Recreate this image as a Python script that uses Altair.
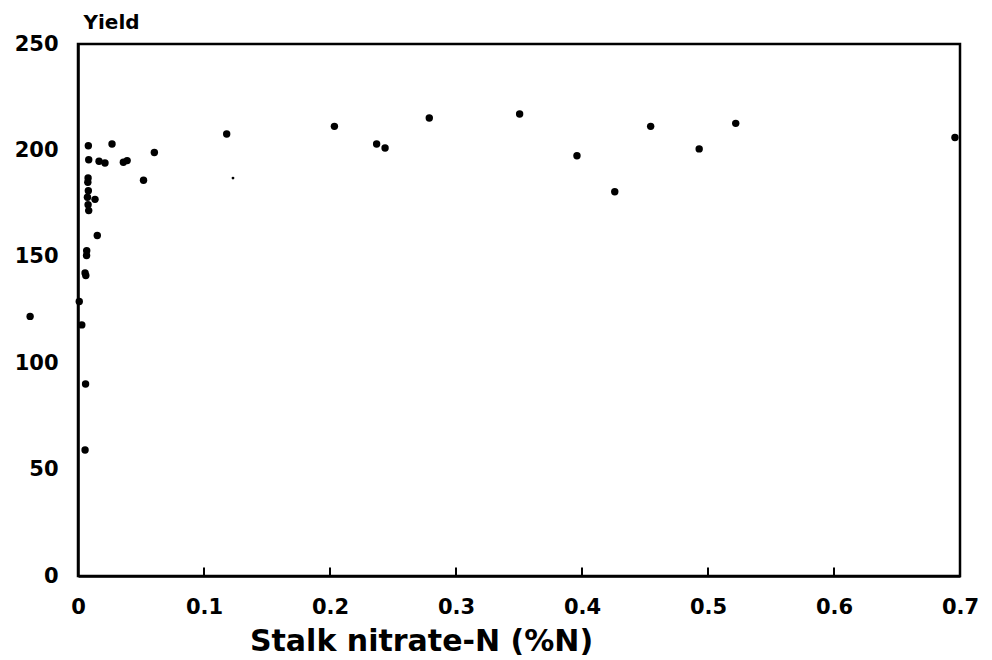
import altair as alt
import pandas as pd

# Data
nitrate = [0.0082, 0.027, 0.0606, 0.0085, 0.0167, 0.0214, 0.036, 0.039, 0.052,
           0.0080, 0.0078, 0.0082, 0.0075, 0.0080, 0.0085, 0.0135, 0.0153,
           0.0069, 0.0068, 0.0056, 0.0062, 0.001, -0.038, 0.003, 0.006, 0.0056,
           0.118, 0.2035, 0.237, 0.2437, 0.2788, 0.3505, 0.396, 0.426, 0.4545,
           0.493, 0.522, 0.696]
yield_ = [202.2, 203.0, 199.0, 195.6, 194.9, 194.1, 194.4, 195.2, 186.0,
          187.0, 185.0, 181.0, 178.0, 174.5, 171.7, 177.0, 160.0,
          152.9, 150.6, 142.4, 141.2, 129.0, 122.0, 118.0, 90.2, 59.2,
          207.7, 211.3, 203.0, 201.1, 215.2, 217.1, 197.5, 180.6, 211.3,
          200.7, 212.7, 206.1]
faint_nitrate = [0.123]
faint_yield = [187.0]
x_ticks = [0.1, 0.2, 0.3, 0.4, 0.5, 0.6]
x_labels = [0, 0.1, 0.2, 0.3, 0.4, 0.5, 0.6, 0.7]
y_labels = [0, 50, 100, 150, 200, 250]

pts = pd.DataFrame({"x": nitrate, "y": yield_})
faint = pd.DataFrame({"x": faint_nitrate, "y": faint_yield})
ticks = pd.DataFrame({"x": x_ticks, "y0": [0] * len(x_ticks), "y1": [4] * len(x_ticks)})

FONT = "DejaVu Sans"

xscale = alt.Scale(domain=[0, 0.7], nice=False, zero=False)
yscale = alt.Scale(domain=[0, 250], nice=False)

xaxis = alt.Axis(values=x_labels, format=".1~f", title="Stalk nitrate-N (%N)",
                 grid=False, ticks=False, labelPadding=20, labelFontSize=21,
                 labelFontWeight="bold", labelFont=FONT, labelColor="black",
                 titleFontSize=30, titleFontWeight="bold", titleFont=FONT,
                 titleColor="black", titleX=343, titleY=74,
                 titleBaseline="alphabetic", titleAnchor="middle", titleAlign="center",
                 domainColor="black", domainWidth=2.5, labelFlush=False)
yaxis = alt.Axis(values=y_labels, title="Yield", grid=False, ticks=False,
                 labelPadding=20, labelFontSize=21, labelFontWeight="bold",
                 labelFont=FONT, labelColor="black",
                 titleAngle=0, titleAlign="left", titleBaseline="middle",
                 titleX=5, titleY=-22, titleFontSize=20, titleFontWeight="bold",
                 titleFont=FONT, titleColor="black",
                 domainColor="black", domainWidth=2.5)

points = alt.Chart(pts).mark_circle(size=55, color="black", opacity=1).encode(
    x=alt.X("x:Q", scale=xscale, axis=xaxis),
    y=alt.Y("y:Q", scale=yscale, axis=yaxis),
)
faint_pts = alt.Chart(faint).mark_circle(size=8, color="black", opacity=1).encode(
    x=alt.X("x:Q", scale=xscale),
    y=alt.Y("y:Q", scale=yscale),
)
tick_marks = alt.Chart(ticks).mark_rule(color="black", strokeWidth=2).encode(
    x=alt.X("x:Q", scale=xscale),
    y=alt.Y("y0:Q", scale=yscale),
    y2="y1:Q",
)

chart = alt.layer(tick_marks, faint_pts, points).properties(
    width=882, height=532,
    autosize=alt.AutoSizeParams(type="none"),
    padding={"left": 78, "top": 44, "right": 32, "bottom": 84},
    background="white",
).configure_view(stroke="black", strokeWidth=2.5)

chart.save("out.html", embed_options={"renderer": "svg", "actions": False})
